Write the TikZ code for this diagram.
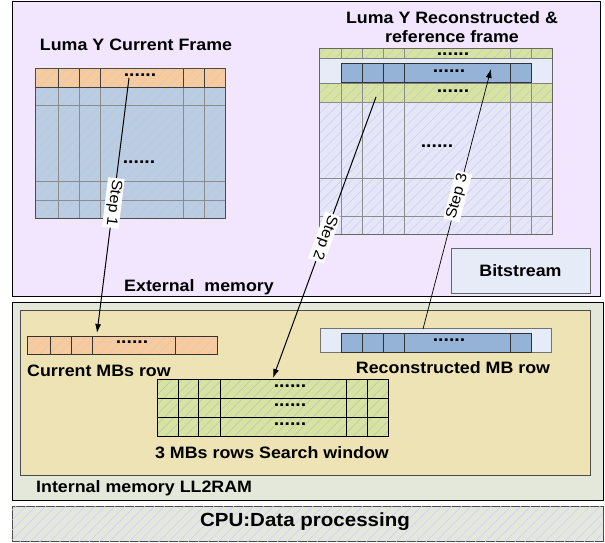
\documentclass[tikz,border=0pt]{standalone}
\usepackage{fontspec}
\setmainfont{Liberation Sans}[FakeStretch=1.08]
\usepackage{xcolor}
\usepackage{tikz}
\definecolor{extbg}{HTML}{F1E6FD}
\definecolor{intbg}{HTML}{E3E8DA}
\definecolor{ll2bg}{HTML}{EDE3B5}
\definecolor{cpubg}{HTML}{E3E7DC}
\definecolor{curorange}{HTML}{F9CB9C}
\definecolor{curblue}{HTML}{B9CDE5}
\definecolor{refgreen}{HTML}{D7E4A1}
\definecolor{reflav}{HTML}{E5E7F7}
\definecolor{recblue}{HTML}{95B3D7}
\definecolor{recband}{HTML}{E6ECF7}
\usetikzlibrary{patterns.meta, arrows.meta, positioning}

\begin{document}
\begin{tikzpicture}[x=1pt, y=-1pt,
  lbl/.style={font=\fontsize{16.5}{19}\selectfont\bfseries, inner sep=0pt},
  dots/.style={font=\fontsize{18}{18}\selectfont\bfseries, inner sep=0pt},
  steplbl/.style={fill=white, font=\fontsize{15}{15}\selectfont, inner sep=1.5pt},
  hatch/.style={postaction={pattern={Lines[angle=45,distance=7pt,line width=.5pt]}, pattern color=#1}},
  flow/.style={-{Latex[length=9pt,width=6pt]}, line width=1pt}]
\useasboundingbox (0,0) rectangle (605,542);

\draw[fill=extbg, line width=1pt] (12,1) rectangle (600,296);
\draw[fill=intbg, line width=1pt] (12,302) rectangle (603,500);
\draw[fill=ll2bg, draw=black!70, line width=.8pt] (20,310) rectangle (590,475);
\draw[fill=cpubg, hatch=blue!20, draw=black!70, line width=.8pt] (12,506) rectangle (603,541);

% current frame
\fill[curblue, hatch=gray!45] (35,87) rectangle (225,218);
\fill[curorange, hatch=gray!40] (35,68) rectangle (225,87);
\foreach \x in {58,79,100,183,204} \draw[black!45] (\x,87) -- (\x,218);
\foreach \x in {58,79,100,183,204} \draw[black!75] (\x,68) -- (\x,87);
\foreach \y in {105,181,200} \draw[black!45] (35,\y) -- (225,\y);
\draw[black!75] (35,87) -- (225,87);
\draw[black!70, line width=.8pt] (35,68) rectangle (225,218);
\node[lbl] (curtitle) at (136,45) {Luma Y Current Frame};
\node[dots] (curdots) at (140,75) {......};
\node[dots] (curmid) at (139,162) {......};

% reconstructed & reference frame
\fill[reflav, hatch=blue!20] (319,102) rectangle (552,234);
\fill[refgreen, hatch=gray!45] (319,48) rectangle (552,58);
\fill[refgreen, hatch=gray!45] (319,83) rectangle (552,102);
\foreach \x in {341,362,383,404,510,531} \draw[black!45] (\x,48) -- (\x,234);
\foreach \y in {102,178,216} \draw[black!45] (319,\y) -- (552,\y);
\node[dots] (refdots1) at (453,54) {......};
\draw[fill=recband, draw=black!50] (319,58) rectangle (552,83);
\draw[fill=recblue, draw=black!80] (341,63) rectangle (531,82);
\foreach \x in {362,383,404,510} \draw[black!80] (\x,63) -- (\x,82);
\draw[black!60, line width=.8pt] (319,48) rectangle (552,234);
\node[dots] (refdots2) at (449,71) {......};
\node[dots] (refdots3) at (453,91) {......};
\node[dots] (refmid) at (437,146) {......};
\node[lbl, align=center] (reftitle) at (452,27) {Luma Y Reconstructed \&\\reference frame};

\node[lbl, draw=black!60, fill=recband, minimum width=139pt, minimum height=45pt] (bits) at (520.5,270.5) {Bitstream};
\node[lbl] (extlbl) at (199,287) {External\ \ memory};

% internal memory
\fill[curorange, hatch=gray!40] (27,336) rectangle (217,354);
\foreach \x in {50,71,92,175} \draw[black!80] (\x,336) -- (\x,354);
\draw[black!80] (27,336) rectangle (217,354);
\node[dots] (rowdots) at (132,342) {......};
\node[lbl, anchor=west] (rowlbl) at (27,371) {Current MBs row};

\fill[refgreen, hatch=gray!50] (157,379) rectangle (388,436);
\foreach \x in {178,198,220,346,367} \draw (\x,379) -- (\x,436);
\foreach \y in {398,417} \draw (157,\y) -- (388,\y);
\draw (157,379) rectangle (388,436);
\foreach \y [count=\i] in {386,405,424} \node[dots] (swdots\i) at (290,\y) {......};
\node[lbl] (swlbl) at (272,453) {3 MBs rows Search window};

\draw[fill=recband, draw=black!55] (320,328) rectangle (551,352);
\draw[fill=recblue, draw=black!80] (341,333) rectangle (531,352);
\foreach \x in {362,383,404,510} \draw[black!80] (\x,333) -- (\x,352);
\node[dots] (recdots) at (449,340) {......};
\node[lbl] (reclbl) at (453,368) {Reconstructed MB row};

\node[lbl, anchor=west] (intlbl) at (36,488) {Internal memory LL2RAM};
\node[lbl, font=\fontsize{19}{21}\selectfont\bfseries] (cpulbl) at (305,522) {CPU:Data processing};

% steps
\coordinate (s1a) at (129,78);
\coordinate (s1b) at (97,333);
\coordinate (s2a) at (376,97);
\coordinate (s2b) at (273,378);
\coordinate (s3a) at (423,329);
\coordinate (s3b) at (491,69);
\draw[flow] (s1a) -- node[steplbl, rotate=-97, pos=.49] {Step 1} (s1b);
\draw[flow] (s2a) -- node[steplbl, rotate=-110, pos=.5] {Step 2} (s2b);
\draw[flow, line width=.7pt] (s3a) -- node[steplbl, rotate=75, pos=.51] {Step 3} (s3b);
\end{tikzpicture}
\end{document}
